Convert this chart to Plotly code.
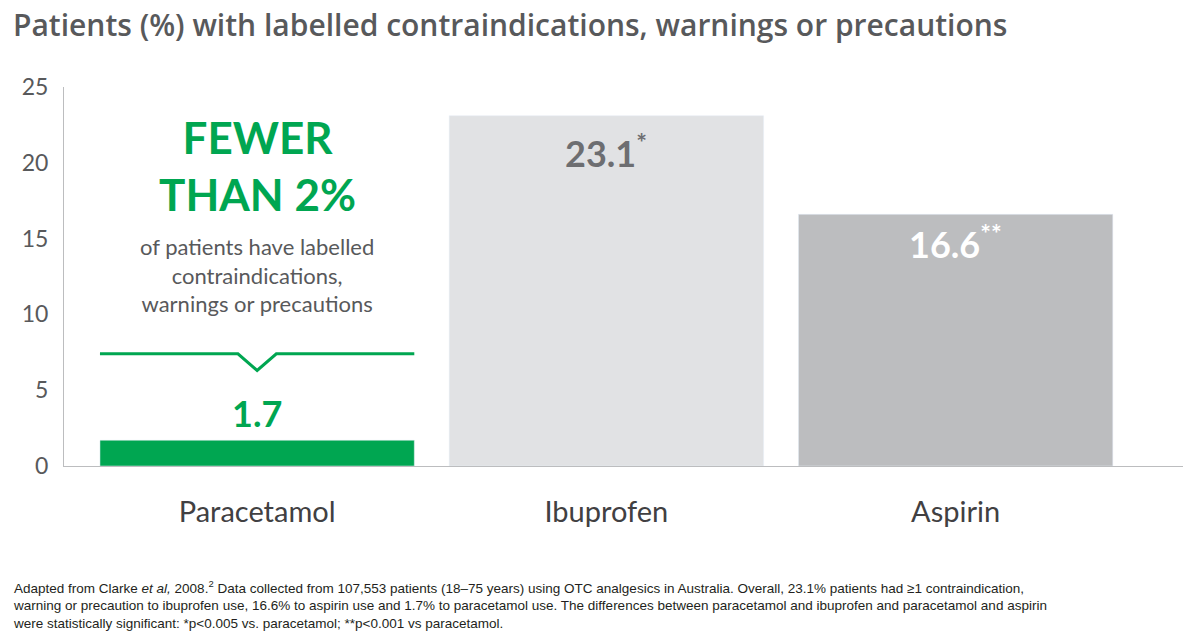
import plotly.graph_objects as go

drugs = ["Paracetamol", "Ibuprofen", "Aspirin"]
pct = [1.7, 23.1, 16.6]
bar_colors = ["#00a651", "#e1e2e4", "#bcbdbf"]
value_labels = ["1.7", "23.1<sup>*</sup>", "16.6<sup>**</sup>"]
label_y = [3.5, 20.8, 14.8]
label_colors = ["#00a651", "#6d6e71", "#ffffff"]

fig = go.Figure(go.Bar(x=[0, 1, 2], y=pct, marker_color=bar_colors, width=0.9))

for i in range(3):
    fig.add_annotation(x=i, y=label_y[i], text="<b>%s</b>" % value_labels[i], showarrow=False,
                       font=dict(size=36, color=label_colors[i], family="Lato"))

# callout over paracetamol
fig.add_annotation(x=0, y=19.8, text="<b>FEWER<br>THAN 2%</b>", showarrow=False,
                   font=dict(size=44, color="#00a651", family="Lato"))
fig.add_annotation(x=0, y=12.6, text="of patients have labelled<br>contraindications,<br>warnings or precautions",
                   showarrow=False, font=dict(size=22, color="#58595b", family="Lato"))
fig.add_shape(type="path", path="M -0.45 7.4 L -0.055 7.4 L 0 6.3 L 0.055 7.4 L 0.45 7.4",
              line=dict(color="#00a651", width=3))

fig.add_annotation(xref="paper", yref="paper", x=-0.047, y=1.225, xanchor="left", yanchor="top",
                   text="Patients (%) with labelled contraindications, warnings or precautions",
                   showarrow=False, font=dict(size=30, color="#58595b", family="Open Sans", weight=600))

foot = ("Adapted from Clarke <i>et al,</i> 2008.<sup>2</sup> Data collected from 107,553 patients (18–75 years) using OTC analgesics in Australia. Overall, 23.1% patients had ≥1 contraindication,<br>"
        "warning or precaution to ibuprofen use, 16.6% to aspirin use and 1.7% to paracetamol use. The differences between paracetamol and ibuprofen and paracetamol and aspirin<br>"
        "were statistically significant: *p&lt;0.005 vs. paracetamol; **p&lt;0.001 vs paracetamol.")
fig.add_annotation(xref="paper", yref="paper", x=-0.047, y=-0.29, xanchor="left", yanchor="top",
                   text=foot, align="left", showarrow=False,
                   font=dict(size=13.5, color="#231f20", family="Liberation Sans"))

fig.update_xaxes(range=[-0.553, 2.651], tickvals=[0, 1, 2], ticktext=drugs, showline=True,
                 linecolor="#bcbdbf", linewidth=1, ticks="", ticklabelstandoff=20,
                 tickfont=dict(size=29, color="#414042", family="Lato"), showgrid=False)
fig.update_yaxes(range=[0, 25], tickvals=[0, 5, 10, 15, 20, 25], showline=True, linecolor="#bcbdbf",
                 showgrid=False, zeroline=False, ticks="", ticklabelstandoff=10,
                 tickfont=dict(size=23, color="#58595b", family="Lato"))
fig.update_layout(width=1200, height=641, margin=dict(l=56, r=25, t=79, b=183),
                  plot_bgcolor="white", paper_bgcolor="white", showlegend=False)
fig.write_html("out.html")
